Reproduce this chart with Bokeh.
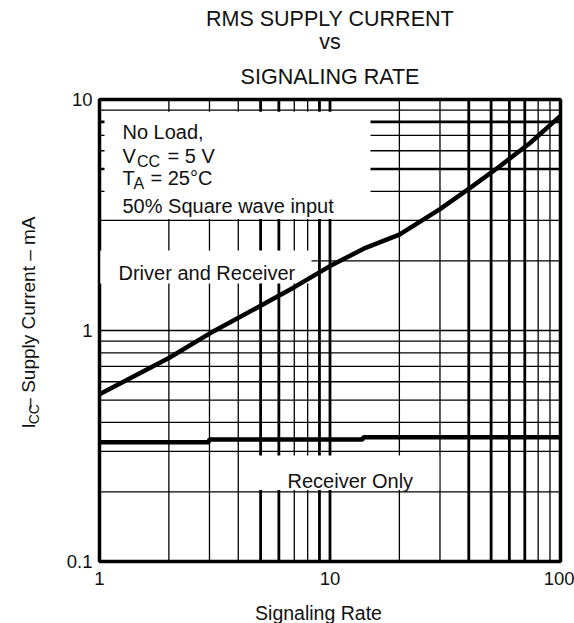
import math
from bokeh.plotting import figure
from bokeh.layouts import column, row
from bokeh.models import Label, FixedTicker, Title
from bokeh.core.properties import value
from bokeh.embed import file_html
from bokeh.resources import INLINE

# ---- data ----
rate_drv = [1, 2, 3, 5, 7, 10, 14, 20, 30, 40, 54, 74, 100]
icc_drv = [0.53, 0.76, 0.97, 1.28, 1.54, 1.90, 2.26, 2.60, 3.35, 4.10, 5.10, 6.50, 8.5]

rate_rx = [1, 2.97, 3.0, 13.8, 14.0, 100]
icc_rx = [0.328, 0.328, 0.337, 0.337, 0.345, 0.345]

x_ticks = [1, 10, 100]
x_tick_labels = ["1", "10", "100"]
y_ticks = [0.1, 1, 10]
y_tick_labels = ["0.1", "1", "10"]

x_grid = [2, 3, 4, 5, 6, 7, 8, 9, 10, 20, 30, 40, 50, 60, 70, 80, 90]
y_grid = [0.2, 0.3, 0.4, 0.5, 0.6, 0.7, 0.8, 0.9, 1, 2, 3, 4, 5, 6, 7, 8, 9]
x_grid_heavy = {5, 6, 9, 10, 40, 50, 60, 70}
y_grid_heavy = {5, 8}

title_lines = ["RMS SUPPLY CURRENT", "vs", "SIGNALING RATE"]
x_label = "Signaling Rate"
note_lines = ["No Load,", "50% Square wave input"]
curve_labels = ["Driver and Receiver", "Receiver Only"]

FONT = "Liberation Sans"
INK = "#111111"

# ---- page layout (pixels) ----
W, H = 574, 623
YLAB_W = 50             # y-label strip width
XLAB_H = 26             # x-label strip height
FL, FR, FT, FB = 99, 560, 99, 561   # frame edges on the page
MAIN_W = W - YLAB_W
MAIN_H = H - XLAB_H


def px_to_x(px):
    return 10 ** (math.log10(x_ticks[0]) + (px - FL) / (FR - FL) * 2)


def py_to_y(py):
    return 10 ** (math.log10(y_ticks[-1]) - (py - FT) / (FB - FT) * 2)


def strip(w, h):
    f = figure(width=w, height=h, x_range=(0, w), y_range=(0, h), min_border=0,
               toolbar_location=None, output_backend="svg",
               x_axis_location=None, y_axis_location=None)
    f.grid.visible = False
    f.outline_line_color = None
    f.background_fill_color = "white"
    f.border_fill_color = "white"
    return f


# ---- y-label strip (text reads bottom to top, with subscript) ----
py_ = strip(YLAB_W, MAIN_H)
def ylab_piece(txt, bx, by, size):
    py_.text(x=[bx], y=[MAIN_H - by], text=[txt], text_font=value(FONT),
             text_font_size=size, text_color=INK, text_align="left",
             text_baseline="alphabetic", angle=math.pi / 2)
ylab_piece("I", 28, 425, "19px")
ylab_piece("CC", 33, 419.7, "14px")
ylab_piece("– Supply Current – mA", 28, 399.5, "19px")

# ---- x-label strip ----
px_ = strip(W, XLAB_H)
px_.text(x=[318], y=[XLAB_H - (612 - MAIN_H)], text=[x_label],
         text_font=value(FONT), text_font_size="19.5px", text_color=INK,
         text_align="center", text_baseline="alphabetic")

# ---- main chart ----
p = figure(width=MAIN_W, height=MAIN_H, x_axis_type="log", y_axis_type="log",
           x_range=(x_ticks[0], x_ticks[-1]), y_range=(y_ticks[0], y_ticks[-1]),
           output_backend="svg", toolbar_location=None, title_location=None,
           min_border_left=FL - YLAB_W, min_border_right=W - FR,
           min_border_top=FT, min_border_bottom=MAIN_H - FB)
for txt, gap in zip(reversed(title_lines), [22, -5, 0]):
    p.add_layout(Title(text=txt, align="center", text_font=FONT, text_font_size="21.5px",
                       text_font_style="normal", text_color=INK, standoff=gap), "above")
p.grid.visible = False
p.background_fill_color = "white"
p.border_fill_color = "white"
p.outline_line_color = "black"
p.outline_line_width = 3.5

for ax, ticks, labels in ((p.xaxis, x_ticks, x_tick_labels), (p.yaxis, y_ticks, y_tick_labels)):
    ax.ticker = FixedTicker(ticks=ticks)
    ax.major_label_overrides = {t: l for t, l in zip(ticks, labels)}
    ax.major_tick_in = 0
    ax.major_tick_out = 0
    ax.minor_tick_in = 0
    ax.minor_tick_out = 0
    ax.axis_line_color = "black"
    ax.major_label_text_font = FONT
    ax.major_label_text_font_size = "18.5px"
    ax.major_label_text_color = INK
p.xaxis.axis_line_width = 3
p.yaxis.axis_line_width = 1.5
p.xaxis.major_label_standoff = 10
p.yaxis.major_label_standoff = 7

# grid drawn as segments
for xv in x_grid:
    p.segment(x0=[xv], y0=[y_ticks[0]], x1=[xv], y1=[y_ticks[-1]], line_color="black",
              line_width=2.8 if xv in x_grid_heavy else 1.3)
for yv in y_grid:
    p.segment(x0=[x_ticks[0]], y0=[yv], x1=[x_ticks[-1]], y1=[yv], line_color="black",
              line_width=2.6 if yv in y_grid_heavy else 1.3)

# white label panels that hide the grid
boxes = [(104, 370, 111.2, 218.5), (97, 311, 250, 283), (239.2, 438.7, 455, 489.5)]
for l, r, t, b in boxes:
    p.quad(left=[px_to_x(l)], right=[px_to_x(r)], top=[py_to_y(t)], bottom=[py_to_y(b)],
           fill_color="white", line_color=None)

# curves
p.line(rate_drv, icc_drv, line_color="black", line_width=4.5, line_join="round")
p.line(rate_rx, icc_rx, line_color="black", line_width=4.5)

# in-frame texts (screen units from the frame's bottom-left corner)
def lab(text, px, py, size="20px"):
    p.add_layout(Label(x=px - FL, y=FB - py, x_units="screen", y_units="screen", text=text,
                       text_font=FONT, text_font_size=size, text_color=INK,
                       text_align="left", text_baseline="alphabetic"))

lab(note_lines[0], 122, 131)
lab("V", 122, 155)
lab("CC", 136.5, 161, "16px")
lab("= 5 V", 167, 155)
lab("T", 122, 177)
lab("A", 133, 183, "16px")
lab("= 25°C", 150, 177)
lab(note_lines[1], 122, 205)
lab(curve_labels[0], 118, 272)
lab(curve_labels[1], 287, 480)

layout = column(row(py_, p), px_)
open("out.html", "w").write(file_html(layout, INLINE))
